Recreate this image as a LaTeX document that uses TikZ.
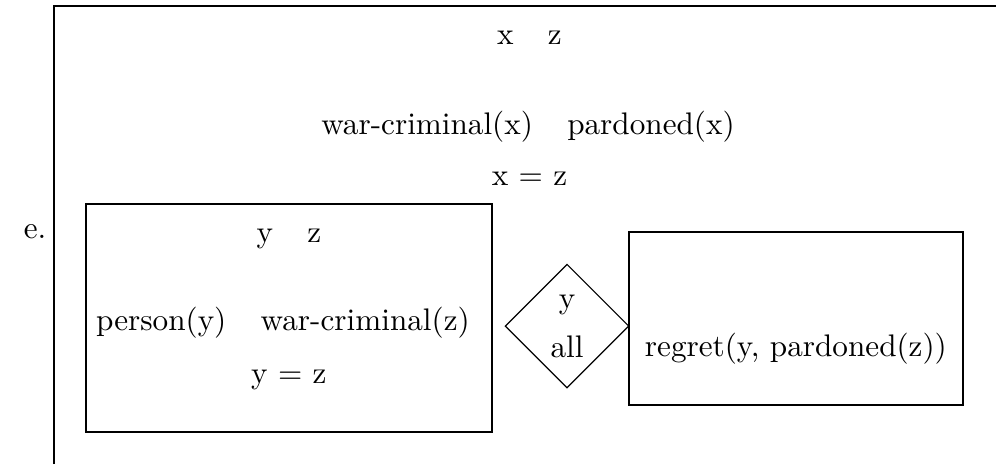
\documentclass[tikz,border=0pt]{standalone}
\usepackage{tikz}
\usetikzlibrary{shapes.geometric}
\tikzset{
  drsbox/.style={draw,line width=0.8pt,inner sep=0pt},
  drsline/.style={line width=0.8pt},
  quant/.style={draw,diamond,line width=0.4pt,inner sep=0pt,minimum width=41.3pt,minimum height=41.3pt},
  cond/.style={anchor=base,inner sep=0pt}
}
\newcommand{\gap}{\hspace{1.1em}}

\begin{document}
\begin{tikzpicture}[x=1pt,y=-1pt,font=\fontsize{10.4pt}{12.5pt}\selectfont]
\useasboundingbox (0,0) rectangle (332,154.67);
\coordinate (ob) at (18,154.67); \coordinate (oc) at (18,2); \coordinate (or) at (332,2);
\draw[drsline] (ob) -- (oc) -- (or);
\node (ex) at (11.7,77.3) {e.};
\node[cond] (univ) at (176.5,15) {x\gap z};
\node[cond] (conds) at (176,44.7) {war-criminal(x)\gap pardoned(x)};
\node[cond] (eq) at (176.5,61.7) {x = z};
\node[drsbox,minimum width=135.3pt,minimum height=76pt] (lbox) at (96.3,106) {};
\node[cond] (luniv) at (96.3,81) {y\gap z};
\node[cond] (lconds) at (94.3,110.3) {person(y)\gap war-criminal(z)};
\node[cond] (leq) at (96.3,127.7) {y = z};
\node[quant] (dia) at (189,108.7) {};
\node[cond] (qvar) at (189,102.7) {y};
\node[cond] (qall) at (189,119.3) {all};
\node[drsbox,minimum width=111.3pt,minimum height=57.7pt] (rbox) at (265.3,106.2) {};
\node[cond] (rconds) at (265.3,119) {regret(y, pardoned(z))};
\end{tikzpicture}
\end{document}
